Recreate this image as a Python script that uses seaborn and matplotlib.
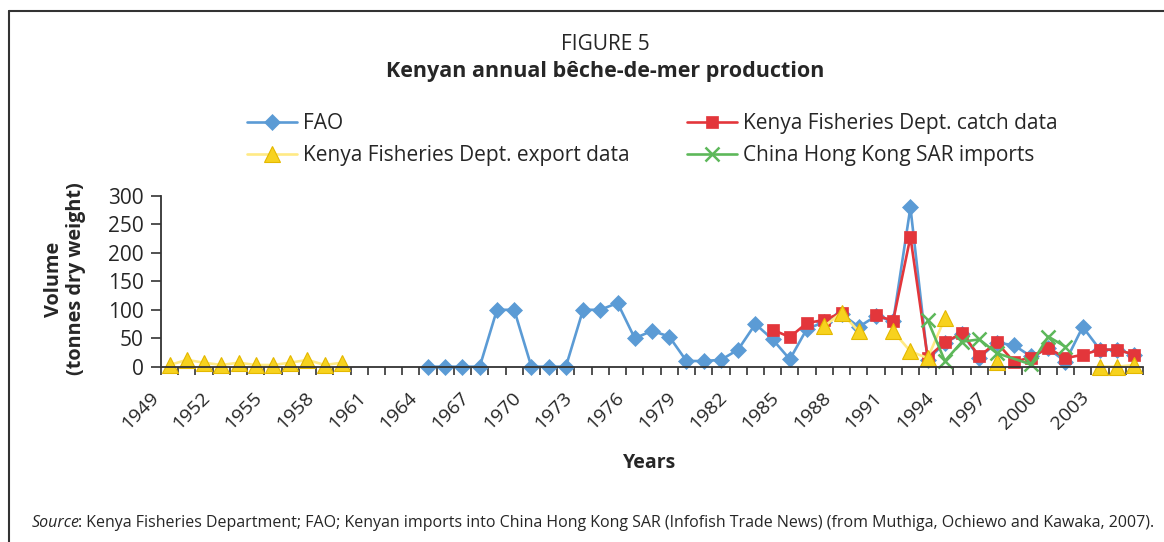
import numpy as np
import pandas as pd
import matplotlib
matplotlib.use("Agg")
import matplotlib.pyplot as plt
import matplotlib.transforms as mtransforms
import seaborn as sns
from matplotlib.lines import Line2D

nan = np.nan

# ---------------- data ----------------
years = list(range(1949, 2006))
tick_years = list(range(1949, 2004, 3))
y_ticks = [0, 50, 100, 150, 200, 250, 300]

fao = [nan] * 15 + [0, 0, 0, 0, 100, 100, 0, 0, 0, 100, 100, 112, 50, 63, 53,
                    10, 10, 12, 30, 75, 48, 13, 67, 78, 93, 70, 89, 80, 280,
                    12, 42, 58, 16, 42, 38, 18, 32, 9, 70, 30, 30, 21]
catch = [nan] * 35 + [65, 52, 77, 82, 95, nan, 90, 81, 228, 16, 43, 59, 18,
                      43, 9, 16, 33, 15, 21, 30, 30, 21]
export = ([3, 12, 7, 3, 7, 3, 3, 7, 12, 3, 7] + [nan] * 27 +
          [71, 95, 62, nan, 62, 27, 15, 85, nan, nan, 9,
           nan, nan, nan, nan, nan, 0, 0, 3])
china = [nan] * 44 + [82, 10, 44, 48, 24, nan, 4, 53, 35] + [nan] * 4

series_names = ["FAO", "Kenya Fisheries Dept. catch data",
                "Kenya Fisheries Dept. export data", "China Hong Kong SAR imports"]
series_values = [fao, catch, export, china]
connect_gaps = [False, False, False, True]

# ---------------- style ----------------
W, H = 1164, 542
BLUE = "#5B9BD5"
RED = "#E3363B"
YEL_LINE = "#FFEA85"
YEL_MARK = "#F7D21E"
YEL_EDGE = "#E4B800"
GREEN = "#5DB85A"

styles = [
    dict(color=BLUE, marker="D", markersize=8.5, markerfacecolor=BLUE, markeredgecolor=BLUE, markeredgewidth=0.5),
    dict(color=RED, marker="s", markersize=8.5, markerfacecolor=RED, markeredgecolor=RED, markeredgewidth=0.5),
    dict(color=YEL_LINE, marker="^", markersize=11, markerfacecolor=YEL_MARK, markeredgecolor=YEL_EDGE, markeredgewidth=0.8),
    dict(color=GREEN, marker="x", markersize=10.5, markerfacecolor=GREEN, markeredgecolor=GREEN, markeredgewidth=1.8),
]

sns.set_theme(style="ticks")
plt.rcParams["font.family"] = ["Open Sans", "DejaVu Sans"]

fig = plt.figure(figsize=(W / 100, H / 100), dpi=100)
fig.patch.set_facecolor("white")
ax = fig.add_axes([161 / W, 1 - 366.7 / H, (1143 - 161) / W, (366.7 - 196) / H])

# build long frame
rows = []
for name, vals, conn in zip(series_names, series_values, connect_gaps):
    seg = 0
    for yr, v in zip(years, vals):
        if np.isnan(v):
            if not conn:
                seg += 1
            continue
        rows.append(dict(series=name, year=yr, value=v, seg=seg))
df = pd.DataFrame(rows)

for name, st in zip(series_names, styles):
    sub = df[df["series"] == name]
    sns.lineplot(data=sub, x="year", y="value", units="seg", estimator=None,
                 ax=ax, legend=False, linewidth=1.9, clip_on=False, **st)

ax.set_xlim(1948.5, 2005.5)
ax.set_ylim(0, 300)
ax.set_yticks(y_ticks)
ax.set_xticks(tick_years)
ax.set_xticklabels([str(y) for y in tick_years], rotation=45, ha="right",
                   rotation_mode="anchor", fontsize=14)
ax.set_xticks(np.arange(1948.5, 2006, 1), minor=True)
ax.tick_params(axis="x", which="major", length=0, pad=15.5)
ax.tick_params(axis="x", which="minor", length=6, width=1.2, color="#333333", direction="out")
ax.tick_params(axis="y", which="major", length=7, width=1.2, color="#333333",
               direction="out", labelsize=15, pad=5.5)
shift = mtransforms.ScaledTranslation(-0.20, 0, fig.dpi_scale_trans)
for lab in ax.get_xticklabels():
    lab.set_transform(lab.get_transform() + shift)
ax.set_xlabel("")
ax.set_ylabel("")
for s in ["top", "right"]:
    ax.spines[s].set_visible(False)
for s in ["left", "bottom"]:
    ax.spines[s].set_color("#333333")
    ax.spines[s].set_linewidth(1.3)
ax.set_facecolor("white")

# titles and labels
fig.text(605 / W, 1 - 44 / H, "FIGURE 5", ha="center", va="center", fontsize=15)
fig.text(605 / W, 1 - 72 / H, "Kenyan annual bêche-de-mer production",
         ha="center", va="center", fontsize=15.5, fontweight="bold")
fig.text(65 / W, 1 - 279 / H, "Volume\n(tonnes dry weight)", rotation=90,
         ha="center", va="center", fontsize=14.3, fontweight="bold", linespacing=1.12)
fig.text(650 / W, 1 - 463 / H, "Years", ha="center", va="center",
         fontsize=14, fontweight="bold")

t1 = fig.text(32 / W, 1 - 523 / H, "Source", ha="left", va="center",
              fontsize=11.5, style="italic")
ax.annotate(": Kenya Fisheries Department; FAO; Kenyan imports into China Hong Kong SAR "
            "(Infofish Trade News) (from Muthiga, Ochiewo and Kawaka, 2007).",
            xy=(1, 0), xycoords=t1, xytext=(-1.5, 0), textcoords="offset points",
            ha="left", va="bottom", fontsize=11.5, annotation_clip=False)

# legend
handles = []
for st in styles:
    handles.append(Line2D([], [], linewidth=1.9, **st))
order = [0, 2, 1, 3]
fig.legend([handles[i] for i in order], [series_names[i] for i in order],
           ncol=2, loc="upper left", bbox_to_anchor=(247 / W, 1 - 113 / H),
           frameon=False, fontsize=15, handlelength=2.4, handletextpad=0.3,
           columnspacing=2.72, labelspacing=0.52, borderpad=0, borderaxespad=0)

# outer frame (left and top)
fig.add_artist(Line2D([9 / W, 9 / W], [0, 1 - 11 / H], transform=fig.transFigure,
                      color="#333333", linewidth=1.5))
fig.add_artist(Line2D([9 / W, 1], [1 - 11 / H, 1 - 11 / H], transform=fig.transFigure,
                      color="#333333", linewidth=1.5))

fig.savefig("out.png", dpi=100, facecolor="white")
